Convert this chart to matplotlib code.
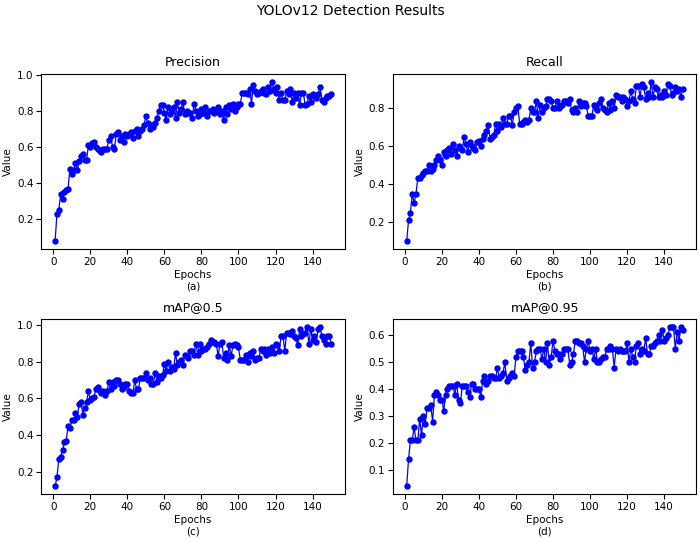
import numpy as np
import matplotlib
matplotlib.use('Agg')
import matplotlib.pyplot as plt

epochs = np.arange(1, 151)

precision = [
    0.08, 0.23, 0.25, 0.34, 0.31, 0.35, 0.36, 0.37, 0.48, 0.45,
    0.47, 0.51, 0.47, 0.52, 0.55, 0.56, 0.53, 0.53, 0.61, 0.60,
    0.62, 0.63, 0.60, 0.59, 0.58, 0.57, 0.59, 0.59, 0.59, 0.64,
    0.66, 0.60, 0.59, 0.67, 0.68, 0.64, 0.66, 0.63, 0.67, 0.66,
    0.67, 0.68, 0.65, 0.69, 0.70, 0.66, 0.69, 0.70, 0.72, 0.77,
    0.73, 0.70, 0.72, 0.71, 0.73, 0.76, 0.80, 0.83, 0.83, 0.79,
    0.75, 0.82, 0.78, 0.80, 0.82, 0.76, 0.85, 0.79, 0.81, 0.85,
    0.78, 0.80, 0.79, 0.79, 0.76, 0.84, 0.80, 0.77, 0.78, 0.81,
    0.79, 0.82, 0.77, 0.80, 0.80, 0.81, 0.79, 0.80, 0.82, 0.78,
    0.80, 0.75, 0.82, 0.78, 0.83, 0.81, 0.84, 0.80, 0.82, 0.84,
    0.84, 0.90, 0.90, 0.90, 0.89, 0.92, 0.84, 0.94, 0.91, 0.89,
    0.90, 0.91, 0.92, 0.90, 0.89, 0.93, 0.91, 0.96, 0.92, 0.90,
    0.93, 0.86, 0.90, 0.86, 0.86, 0.91, 0.89, 0.92, 0.85, 0.90,
    0.87, 0.90, 0.83, 0.90, 0.90, 0.83, 0.84, 0.88, 0.85, 0.89,
    0.88, 0.87, 0.89, 0.93, 0.86, 0.85, 0.87, 0.88, 0.88, 0.89,
]

recall = [
    0.10, 0.21, 0.25, 0.35, 0.30, 0.35, 0.43, 0.43, 0.45, 0.46,
    0.47, 0.47, 0.50, 0.47, 0.48, 0.50, 0.53, 0.55, 0.53, 0.50,
    0.57, 0.55, 0.58, 0.59, 0.56, 0.61, 0.58, 0.55, 0.60, 0.59,
    0.58, 0.65, 0.61, 0.57, 0.62, 0.60, 0.59, 0.58, 0.62, 0.63,
    0.60, 0.64, 0.66, 0.68, 0.71, 0.64, 0.65, 0.66, 0.72, 0.68,
    0.72, 0.70, 0.75, 0.72, 0.72, 0.76, 0.76, 0.71, 0.78, 0.80,
    0.81, 0.72, 0.72, 0.73, 0.74, 0.73, 0.74, 0.80, 0.78, 0.78,
    0.84, 0.75, 0.82, 0.78, 0.80, 0.81, 0.85, 0.85, 0.84, 0.80,
    0.80, 0.84, 0.80, 0.81, 0.82, 0.84, 0.84, 0.83, 0.85, 0.79,
    0.78, 0.80, 0.78, 0.84, 0.81, 0.83, 0.83, 0.81, 0.76, 0.76,
    0.76, 0.82, 0.80, 0.79, 0.83, 0.85, 0.80, 0.79, 0.78, 0.83,
    0.79, 0.84, 0.80, 0.87, 0.86, 0.86, 0.84, 0.86, 0.85, 0.81,
    0.84, 0.89, 0.85, 0.83, 0.92, 0.92, 0.86, 0.93, 0.91, 0.85,
    0.88, 0.86, 0.94, 0.86, 0.91, 0.90, 0.86, 0.87, 0.86, 0.89,
    0.87, 0.93, 0.92, 0.87, 0.88, 0.91, 0.89, 0.90, 0.86, 0.90,
]

map50 = [
    0.12, 0.17, 0.27, 0.28, 0.32, 0.36, 0.37, 0.45, 0.44, 0.48,
    0.48, 0.52, 0.50, 0.57, 0.58, 0.51, 0.55, 0.58, 0.64, 0.59,
    0.60, 0.61, 0.65, 0.66, 0.64, 0.63, 0.64, 0.62, 0.64, 0.69,
    0.65, 0.69, 0.67, 0.70, 0.70, 0.68, 0.65, 0.66, 0.68, 0.68,
    0.64, 0.63, 0.63, 0.70, 0.65, 0.65, 0.71, 0.71, 0.71, 0.74,
    0.70, 0.71, 0.68, 0.68, 0.74, 0.69, 0.72, 0.71, 0.73, 0.79,
    0.75, 0.80, 0.75, 0.77, 0.76, 0.85, 0.78, 0.80, 0.81, 0.78,
    0.84, 0.83, 0.82, 0.86, 0.86, 0.84, 0.90, 0.84, 0.90, 0.86,
    0.87, 0.87, 0.88, 0.90, 0.92, 0.91, 0.91, 0.90, 0.83, 0.90,
    0.91, 0.82, 0.85, 0.81, 0.89, 0.83, 0.89, 0.90, 0.89, 0.88,
    0.81, 0.81, 0.81, 0.84, 0.80, 0.85, 0.83, 0.86, 0.81, 0.82,
    0.82, 0.87, 0.86, 0.87, 0.84, 0.87, 0.85, 0.88, 0.85, 0.90,
    0.89, 0.86, 0.94, 0.94, 0.86, 0.96, 0.96, 0.95, 0.97, 0.94,
    0.93, 0.89, 0.98, 0.94, 0.95, 0.96, 0.99, 0.90, 0.98, 0.92,
    0.94, 0.91, 0.98, 0.99, 0.94, 0.92, 0.90, 0.94, 0.94, 0.90,
]

map95 = [
    0.04, 0.14, 0.21, 0.21, 0.26, 0.21, 0.21, 0.29, 0.23, 0.30,
    0.27, 0.33, 0.33, 0.34, 0.28, 0.38, 0.39, 0.38, 0.36, 0.36,
    0.32, 0.38, 0.40, 0.41, 0.41, 0.41, 0.38, 0.42, 0.36, 0.35,
    0.41, 0.41, 0.41, 0.39, 0.37, 0.42, 0.42, 0.40, 0.40, 0.40,
    0.37, 0.43, 0.45, 0.42, 0.43, 0.45, 0.45, 0.44, 0.44, 0.48,
    0.44, 0.45, 0.46, 0.50, 0.43, 0.44, 0.45, 0.46, 0.45, 0.52,
    0.54, 0.54, 0.54, 0.52, 0.47, 0.49, 0.50, 0.57, 0.48, 0.50,
    0.54, 0.55, 0.55, 0.51, 0.55, 0.50, 0.57, 0.49, 0.52, 0.58,
    0.54, 0.53, 0.53, 0.51, 0.53, 0.55, 0.55, 0.55, 0.49, 0.50,
    0.53, 0.58, 0.58, 0.57, 0.57, 0.56, 0.50, 0.55, 0.58, 0.54,
    0.55, 0.51, 0.55, 0.50, 0.50, 0.51, 0.52, 0.52, 0.55, 0.55,
    0.56, 0.55, 0.48, 0.55, 0.54, 0.55, 0.54, 0.54, 0.54, 0.57,
    0.50, 0.55, 0.52, 0.50, 0.56, 0.57, 0.53, 0.55, 0.54, 0.59,
    0.53, 0.53, 0.56, 0.56, 0.57, 0.58, 0.60, 0.58, 0.62, 0.58,
    0.59, 0.60, 0.63, 0.63, 0.63, 0.55, 0.61, 0.58, 0.63, 0.62,
]

titles = ['Precision', 'Recall', 'mAP@0.5', 'mAP@0.95']
labels = ['(a)', '(b)', '(c)', '(d)']
series = [precision, recall, map50, map95]

plt.rcParams['font.size'] = 7.5

fig, axes = plt.subplots(2, 2, figsize=(7, 5.39), dpi=100)
fig.subplots_adjust(left=0.059, right=0.995, top=0.863, bottom=0.083,
                    wspace=0.158, hspace=0.40)

for ax, vals, t, lab in zip(axes.flat, series, titles, labels):
    ax.plot(epochs, vals, color='blue', marker='o', markersize=3.6, linewidth=0.9)
    ax.set_title(t, fontsize=9)
    ax.set_xlabel('Epochs\n' + lab, labelpad=2.5)
    ax.set_ylabel('Value', labelpad=3)
    ax.tick_params(pad=2)

fig.suptitle('YOLOv12 Detection Results', fontsize=10, y=0.992)

fig.savefig('out.png', dpi=100)
